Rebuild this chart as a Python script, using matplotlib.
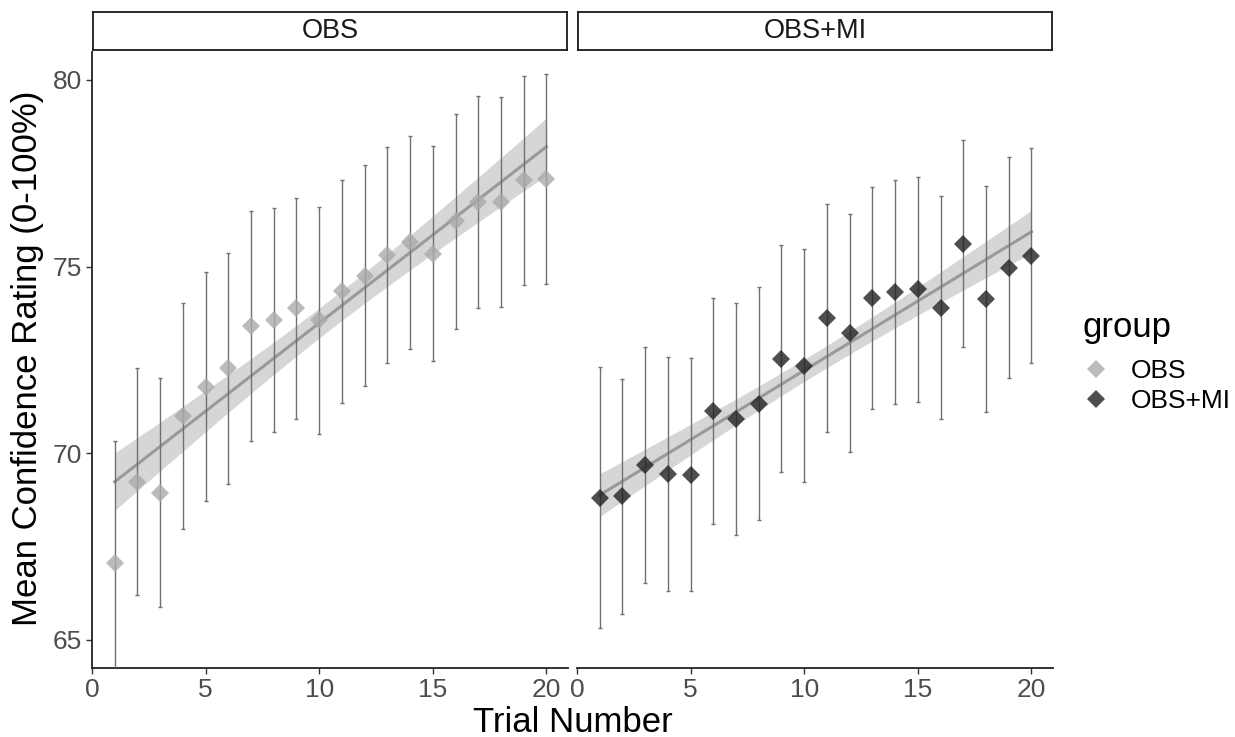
import numpy as np
import matplotlib
matplotlib.use("Agg")
import matplotlib.pyplot as plt
from matplotlib.lines import Line2D

plt.rcParams['font.family'] = ['Liberation Sans', 'DejaVu Sans']

# mean confidence per trial, with half-width of the error bars
trials = np.arange(1, 21)
groups = ["OBS", "OBS+MI"]

obs_mean = [67.07, 69.24, 68.95, 71.00, 71.79, 72.28, 73.41, 73.57, 73.88, 73.56,
            74.34, 74.76, 75.32, 75.65, 75.35, 76.21, 76.74, 76.74, 77.31, 77.35]
obs_err = [3.27, 3.04, 3.06, 3.03, 3.08, 3.09, 3.07, 3.00, 2.97, 3.03,
           2.99, 2.95, 2.89, 2.86, 2.89, 2.88, 2.84, 2.81, 2.80, 2.81]

obsmi_mean = [68.81, 68.85, 69.69, 69.45, 69.43, 71.14, 70.92, 71.33, 72.54, 72.35,
              73.63, 73.22, 74.17, 74.33, 74.39, 73.90, 75.62, 74.13, 74.97, 75.29]
obsmi_err = [3.50, 3.15, 3.15, 3.13, 3.12, 3.03, 3.12, 3.12, 3.05, 3.13,
             3.05, 3.18, 2.97, 3.00, 3.02, 2.99, 2.78, 3.02, 2.96, 2.88]

point_colors = {"OBS": "#aaaaaa", "OBS+MI": "#222222"}
T975_DF18 = 2.1009  # t quantile for 95% band, n=20


def lm_band(x, y, xs):
    x = np.asarray(x, float)
    y = np.asarray(y, float)
    b1, b0 = np.polyfit(x, y, 1)
    resid = y - (b0 + b1 * x)
    s = np.sqrt(np.sum(resid ** 2) / (len(x) - 2))
    se = s * np.sqrt(1 / len(x) + (xs - x.mean()) ** 2 / np.sum((x - x.mean()) ** 2))
    fit = b0 + b1 * xs
    return fit, fit - T975_DF18 * se, fit + T975_DF18 * se


fig = plt.figure(figsize=(12.35, 7.37), dpi=100)
W, H = 1235, 737
panels = [(92, groups[0], obs_mean, obs_err), (577, groups[1], obsmi_mean, obsmi_err)]

for i, (left, name, mean, err) in enumerate(panels):
    ax = fig.add_axes([left / W, (H - 668) / H, 476 / W, (668 - 52) / H])
    xs = np.linspace(1, 20, 100)
    fit, lo, hi = lm_band(trials, mean, xs)
    ax.fill_between(xs, lo, hi, color="#999999", alpha=0.4, lw=0, zorder=1)
    ax.plot(xs, fit, color="#9a9a9a", lw=2.2, zorder=2)
    ax.errorbar(trials, mean, yerr=err, fmt="none", ecolor="#707070", elinewidth=1.0,
                capsize=1.6, capthick=1.0, zorder=3)
    ax.plot(trials, mean, ls="none", marker="D", ms=9.2, mew=0,
            color=point_colors[name], alpha=0.8, zorder=4)

    ax.set_xlim(0.05, 20.95)
    ax.set_ylim(64.25, 80.75)
    ax.set_xticks([0, 5, 10, 15, 20])
    ax.set_yticks([65, 70, 75, 80])
    for side in ["top", "right"]:
        ax.spines[side].set_visible(False)
    for side in ["left", "bottom"]:
        ax.spines[side].set_linewidth(1.3)
        ax.spines[side].set_color("#222222")
    ax.tick_params(axis="both", length=4, width=1.0, color="#333333",
                   labelsize=19, labelcolor="#4d4d4d", pad=3)
    if i == 1:
        ax.spines["left"].set_visible(False)
        ax.tick_params(axis="y", left=False, labelleft=False)

    # facet strip
    sax = fig.add_axes([(left + 1) / W, (H - 50) / H, 474 / W, 38 / H])
    sax.set_xticks([])
    sax.set_yticks([])
    for sp in sax.spines.values():
        sp.set_linewidth(1.3)
        sp.set_color("#1a1a1a")
    sax.text(0.5, 0.5, name, ha="center", va="center", fontsize=19.5, color="#1a1a1a",
             transform=sax.transAxes)

fig.text(572.5 / W, 1 - 722 / H, "Trial Number", ha="center", va="center", fontsize=25)
fig.text(28 / W, 1 - 358 / H, "Mean Confidence Rating (0-100%)", ha="center",
         va="center", rotation=90, fontsize=25)

# legend: title as its own text, keys below it
fig.text(1083 / W, 1 - 337 / H, "group", ha="left", va="baseline", fontsize=25)
handles = [Line2D([], [], ls="none", marker="D", ms=9.2, mew=0,
                  color=point_colors[g], alpha=0.8) for g in groups]
fig.legend(handles, groups, loc="center left", bbox_to_anchor=(1083 / W, 1 - 386 / H),
           frameon=False, borderpad=0, borderaxespad=0, fontsize=19,
           handletextpad=0.8, labelspacing=0.23, handlelength=1.0)

fig.savefig("out.png", dpi=100, facecolor="white")
